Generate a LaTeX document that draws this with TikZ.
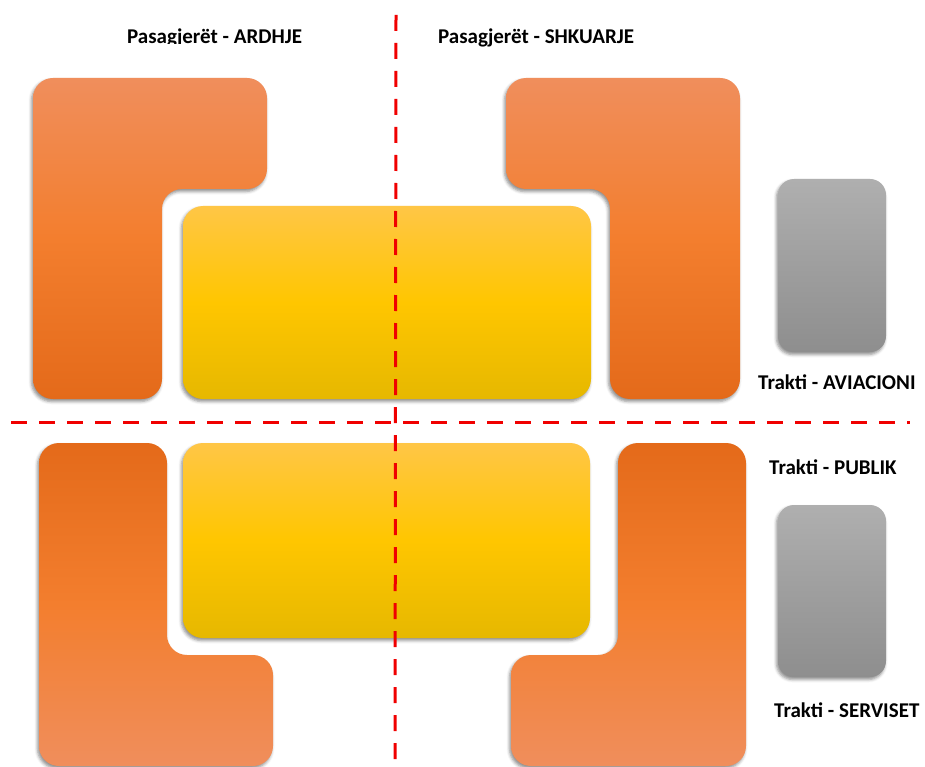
\documentclass[tikz,border=0pt]{standalone}
\usepackage{fontspec}
\setmainfont{Carlito}
\usetikzlibrary{shadows.blur}
\definecolor{orL}{RGB}{240,142,92}
\definecolor{orM}{RGB}{243,126,46}
\definecolor{orD}{RGB}{228,106,26}
\definecolor{yeL}{RGB}{255,198,70}
\definecolor{yeM}{RGB}{255,198,0}
\definecolor{yeD}{RGB}{230,184,0}
\definecolor{grL}{RGB}{175,175,175}
\definecolor{grD}{RGB}{142,142,142}
\definecolor{dashred}{RGB}{240,0,0}
\tikzset{
  shd/.style={blur shadow={shadow xshift=-1.5pt, shadow yshift=-2.5pt, shadow blur radius=3pt, shadow opacity=45}},
  orangeA/.style={shd, top color=orL, bottom color=orD, middle color=orM, rounded corners=20pt},
  orangeB/.style={shd, top color=orD, bottom color=orL, middle color=orM, rounded corners=20pt},
  yellowbox/.style={shd, top color=yeL, bottom color=yeD, middle color=yeM, rounded corners=20pt},
  graybox/.style={shd, top color=grL, bottom color=grD, rounded corners=16pt},
  divider/.style={draw=dashred, line width=3pt, dash pattern=on 16pt off 12pt},
  lbl/.style={font=\fontsize{21}{25}\selectfont\bfseries, inner sep=0pt, anchor=base west, text=black}
}
\begin{document}
\begin{tikzpicture}[x=1pt,y=-1pt]
\useasboundingbox (0,0) rectangle (925,767);
% top L shapes
\path[orangeA] (33,78) -- (267,78) -- (267,189) -- (162,189) -- (162,399) -- (33,399) -- cycle;
\path[orangeA] (506,78) -- (740,78) -- (740,399) -- (610,399) -- (610,189) -- (506,189) -- cycle;
% bottom L shapes
\path[orangeB] (39,443) -- (167,443) -- (167,655) -- (273,655) -- (273,766) -- (39,766) -- cycle;
\path[orangeB] (618,443) -- (746,443) -- (746,766) -- (511,766) -- (511,655) -- (618,655) -- cycle;
% yellow boxes
\path[yellowbox] (183,206) rectangle (591,399);
\path[yellowbox] (183,443) rectangle (590,638);
% gray boxes
\path[graybox] (778,179) rectangle (886,352);
\path[graybox] (778,505) rectangle (886,677);
% dividers
\coordinate (vtop) at (396,15);
\coordinate (vbot) at (395,767);
\coordinate (hleft) at (11,422);
\coordinate (hright) at (910,422);
\draw[divider] (hleft) -- (hright);
\draw[divider] (vtop) -- (vbot);
% labels
\begin{scope}
\clip (100,0) rectangle (340,43.5);
\node[lbl] (ardhje) at (127,44) {Pasagjerët - ARDHJE};
\end{scope}
\node[lbl] (shkuarje) at (438,44) {Pasagjerët - SHKUARJE};
\node[lbl] (aviacioni) at (758,389) {Trakti - AVIACIONI};
\node[lbl] (publik) at (769,474) {Trakti - PUBLIK};
\node[lbl] (serviset) at (774,717) {Trakti - SERVISET};
\end{tikzpicture}
\end{document}
